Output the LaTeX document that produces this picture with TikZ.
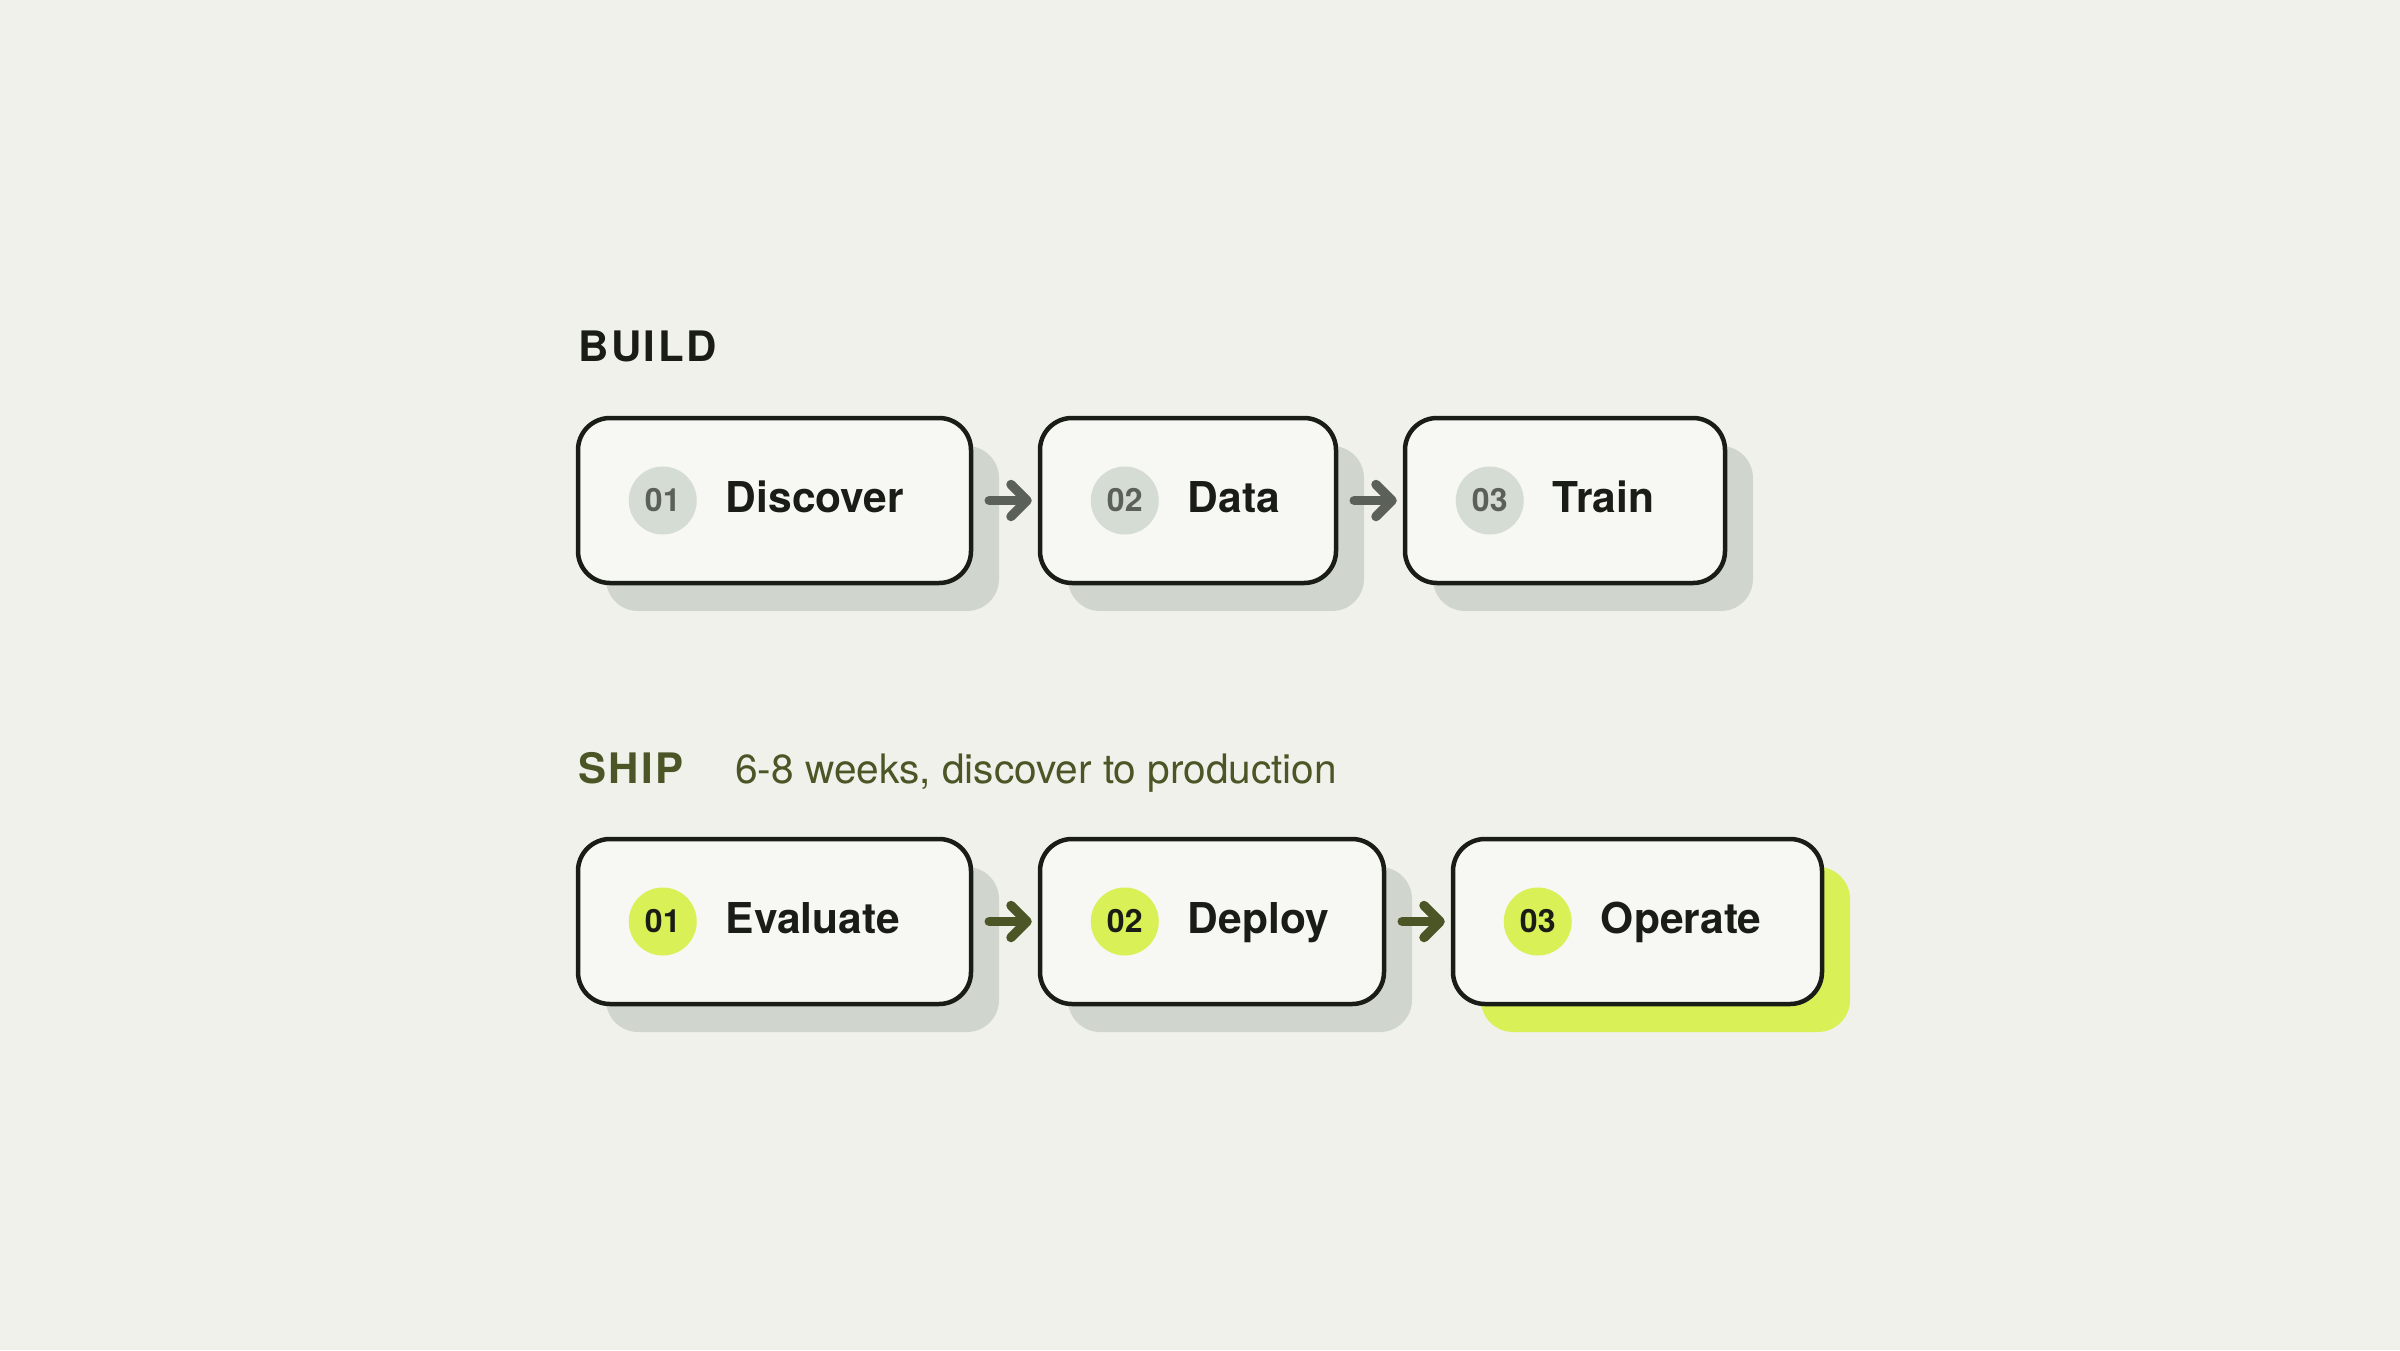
\documentclass[tikz,border=0pt]{standalone}
\usepackage{fontspec}
\setmainfont{TeX Gyre Heros}
\newfontfamily\trackfont[LetterSpace=6]{TeX Gyre Heros}
\usetikzlibrary{arrows.meta,calc,shadows}
\definecolor{bg}{HTML}{F1F1EC}
\definecolor{boxfill}{HTML}{F7F7F3}
\definecolor{ink}{HTML}{1A1C16}
\definecolor{shade}{HTML}{D0D6CD}
\definecolor{numgray}{HTML}{D5DCD3}
\definecolor{numtext}{HTML}{5B6058}
\definecolor{olive}{HTML}{4B5526}
\definecolor{lime}{HTML}{D9F056}
\tikzset{
  stepbox/.style={draw=ink, line width=4.5pt, fill=boxfill, rounded corners=32pt,
    minimum height=165pt, inner sep=0pt,
    drop shadow={shadow xshift=28pt, shadow yshift=-28pt, fill=shade, opacity=1}},
  limebox/.style={draw=ink, line width=4.5pt, fill=boxfill, rounded corners=32pt,
    minimum height=165pt, inner sep=0pt,
    drop shadow={shadow xshift=28pt, shadow yshift=-28pt, fill=lime, opacity=1}},
  numbuild/.style={circle, fill=numgray, minimum size=68pt, inner sep=0pt,
    text=numtext, font=\fontsize{32}{38}\selectfont\bfseries},
  numship/.style={circle, fill=lime, minimum size=68pt, inner sep=0pt,
    text=ink, font=\fontsize{32}{38}\selectfont\bfseries},
  lbl/.style={anchor=base west, inner sep=0pt, text=ink,
    font=\fontsize{42.5}{50}\selectfont\bfseries},
  heading/.style={anchor=base west, inner sep=0pt,
    font=\fontsize{42}{50}\selectfont\trackfont\bfseries},
  sub/.style={anchor=base west, inner sep=0pt, text=olive,
    font=\fontsize{40.6}{48}\selectfont},
  buildarrow/.style={draw=numtext, line width=9.5pt, line cap=round, line join=round,
    shorten <=16pt, shorten >=6pt,
    -{Straight Barb[round, length=16pt, width=32pt]}},
  shiparrow/.style={buildarrow, draw=olive},
}
\begin{document}
\begin{tikzpicture}[x=1pt,y=-1pt]
\fill[bg] (0,0) rectangle (2400,1350);
\useasboundingbox (0,0) rectangle (2400,1350);

% headings
\node[heading, text=ink] (build) at (578,361) {BUILD};
\node[heading, text=olive] (ship) at (578,783) {SHIP};
\node[sub] (subtitle) at (735,783) {6-8 weeks, discover to production};

% BUILD row
\node[stepbox, minimum width=393pt] (discover) at (774.5,500.5) {};
\node[numbuild] (n1) at ($(discover.west)+(87,0)$) {01};
\node[lbl] (t1) at ($(discover.west)+(150,11.5)$) {Discover};

\node[stepbox, minimum width=296pt] (data) at (1188,500.5) {};
\node[numbuild] (n2) at ($(data.west)+(87,0)$) {02};
\node[lbl] (t2) at ($(data.west)+(150,11.5)$) {Data};

\node[stepbox, minimum width=320pt] (train) at (1565,500.5) {};
\node[numbuild] (n3) at ($(train.west)+(87,0)$) {03};
\node[lbl] (t3) at ($(train.west)+(150,11.5)$) {Train};

\draw[buildarrow] (discover.east) -- (data.west);
\draw[buildarrow] (data.east) -- (train.west);

% SHIP row
\node[stepbox, minimum width=393pt] (evaluate) at (774.5,921.5) {};
\node[numship] (m1) at ($(evaluate.west)+(87,0)$) {01};
\node[lbl] (s1) at ($(evaluate.west)+(150,11.5)$) {Evaluate};

\node[stepbox, minimum width=344pt] (deploy) at (1212,921.5) {};
\node[numship] (m2) at ($(deploy.west)+(87,0)$) {02};
\node[lbl] (s2) at ($(deploy.west)+(150,11.5)$) {Deploy};

\node[limebox, minimum width=369pt] (operate) at (1637.5,921.5) {};
\node[numship] (m3) at ($(operate.west)+(87,0)$) {03};
\node[lbl] (s3) at ($(operate.west)+(150,11.5)$) {Operate};

\draw[shiparrow] (evaluate.east) -- (deploy.west);
\draw[shiparrow] (deploy.east) -- (operate.west);
\end{tikzpicture}
\end{document}
